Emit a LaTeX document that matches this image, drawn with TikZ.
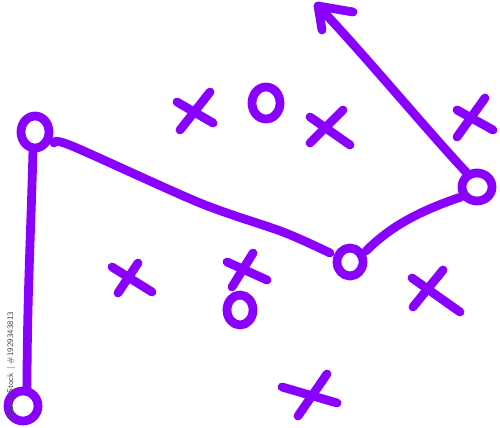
\documentclass[tikz,border=0pt]{standalone}
\usetikzlibrary{calc}
\definecolor{playpurple}{RGB}{138,0,255}
\begin{document}
\begin{tikzpicture}[x=0.02cm,y=-0.02cm,
  pen/.style={draw=playpurple,line width=5pt,line cap=round,line join=round},
  player/.style={pen},
  wm/.style={text=black!70,font=\sffamily\fontsize{4.8}{5}\selectfont,rotate=90,inner sep=0pt}]
\useasboundingbox (0,0) rectangle (500,428);
% players (circles)
\coordinate (A) at (35,132);
\coordinate (B) at (23,406);
\coordinate (C) at (350,262);
\coordinate (D) at (477,187);
\draw[player] (A) ellipse [x radius=14, y radius=16];
\draw[player] (B) ellipse [x radius=15, y radius=15];
\draw[player] (C) ellipse [x radius=13, y radius=14];
\draw[player] (D) ellipse [x radius=15, y radius=14];
% O marks
\coordinate (O1) at (266,103);
\coordinate (O2) at (240,310);
\draw[pen] (O1) ellipse [x radius=14, y radius=16];
\draw[pen] (O2) ellipse [x radius=13, y radius=15];
% routes
\coordinate (Abot) at (33,150);
\coordinate (Btop) at (27,390);
\coordinate (Aright) at (54,143);
\coordinate (Cleft) at (330,253);
\coordinate (Cright) at (366,251);
\coordinate (Dleft) at (461,197);
\coordinate (Dtop) at (466,172);
\coordinate (tip) at (318,6);
\coordinate (barbR) at (353,12);
\coordinate (barbL) at (322,30);
\coordinate (l1) at (72,146);
\coordinate (l2) at (200,203);
\coordinate (l3) at (283,232);
\draw[pen] (Abot) .. controls (31,230) and (27,300) .. (Btop);
\draw[pen] plot[smooth,tension=0.5] coordinates {(Aright) (l1) (l2) (l3) (Cleft)};
\draw[pen] (Cright) .. controls (385,232) and (410,214) .. (Dleft);
\draw[pen] (Dtop) .. controls (425,128) and (362,52) .. (tip);
\draw[pen] (barbR) -- (tip) -- (barbL);
% X marks
\foreach \a/\b/\c/\d/\e/\f/\g/\h [count=\i] in {
  177/102/213/123/210/92/180/130,
  310/117/350/145/343/110/310/143,
  457/110/493/130/485/98/457/137,
  227/262/267/280/253/253/232/287,
  112/267/152/292/138/263/118/293,
  412/278/460/312/443/270/413/307,
  282/387/337/403/327/374/298/416}{
  \coordinate (x\i a) at (\a,\b);
  \coordinate (x\i b) at (\c,\d);
  \coordinate (x\i c) at (\e,\f);
  \coordinate (x\i d) at (\g,\h);
  \draw[pen] (x\i a) -- (x\i b);
  \draw[pen] (x\i c) -- (x\i d);
}
% stock label
\node[wm,anchor=west] (wmk) at (11,421) {Adobe Stock | \#1929343813};
\end{tikzpicture}
\end{document}
